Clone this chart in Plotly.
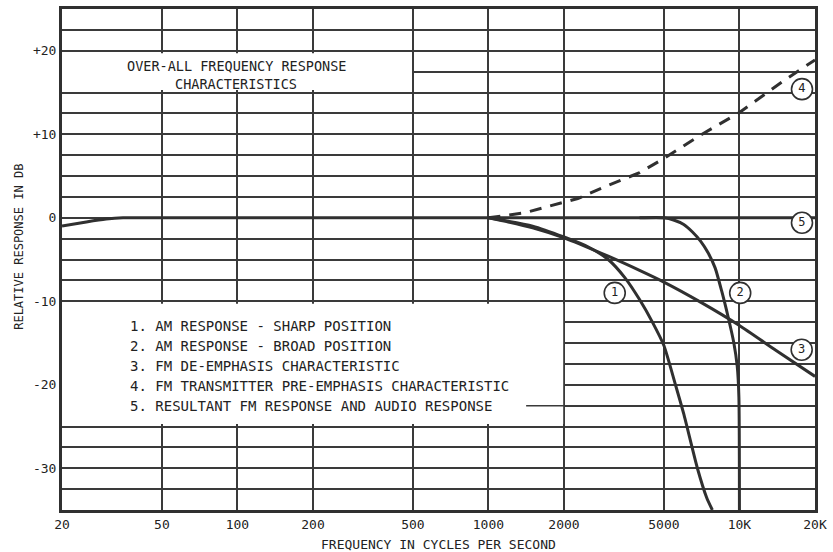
import plotly.graph_objects as go

# ---------------- data ----------------
x_ticks = [20, 50, 100, 200, 500, 1000, 2000, 5000, 10000, 20000]
x_ticklabels = ["20", "50", "100", "200", "500", "1000", "2000", "5000", "10K", "20K"]

y_grid = [-32.5, -30, -27.5, -25, -22.5, -20, -17.5, -15, -12.5, -10, -7.5, -5,
          -2.5, 0, 2.5, 5, 7.5, 10, 12.5, 15, 17.5, 20, 22.5]
y_labels = {20: "+20", 10: "+10", 0: "0", -10: "-10", -20: "-20", -30: "-30"}

# Curve 1: AM response - sharp position
c1_f = [1000, 1500, 2000, 2500, 3000, 3500, 4000, 4500, 5000, 5560, 6000, 6800, 7400, 7800]
c1_db = [0, -1.0, -2.3, -3.5, -5.0, -7.2, -9.8, -12.5, -15.3, -20.0, -23.5, -30.0, -33.5, -35.0]

# Curve 2: AM response - broad position
c2_f = [4000, 5000, 5500, 6000, 6500, 7000, 7500, 8000, 8500, 9000, 9500, 9800, 9950, 10000]
c2_db = [0, 0, -0.3, -0.8, -1.7, -2.8, -4.2, -6.0, -8.8, -11.8, -15.0, -17.8, -21.5, -35.0]

# Curve 3: FM de-emphasis characteristic
c3_f = [1000, 1200, 1500, 2000, 3000, 4000, 5000, 7000, 10000, 14000, 20000]
c3_db = [0, -0.5, -1.2, -2.4, -4.6, -6.3, -7.7, -10.1, -12.9, -15.9, -19.0]

# Curve 4: FM transmitter pre-emphasis characteristic (dashed)
c4_f = [1000, 1400, 1750, 2270, 2900, 4000, 5000, 7000, 10000, 15000, 20000]
c4_db = [0, 0.6, 1.4, 2.3, 3.7, 5.4, 7.1, 9.9, 12.6, 16.4, 18.9]

# Curve 5: resultant FM response and audio response
c5_f = [20, 25, 30, 35, 50, 100, 1000, 5000, 20000]
c5_db = [-1.0, -0.5, -0.15, 0, 0, 0, 0, 0, 0]

# circled curve numbers
lab_f = [3185, 10070, 17700, 17750, 17750]
lab_db = [-9.0, -9.0, -15.8, 15.4, -0.6]
lab_text = ["1", "2", "3", "4", "5"]

# partial grid line visible beside the legend box
seg_f = [1413, 2000]
seg_db = [-22.5, -22.5]

title_lines = ["OVER-ALL FREQUENCY RESPONSE", "CHARACTERISTICS"]
legend_lines = [
    "1. AM RESPONSE - SHARP POSITION",
    "2. AM RESPONSE - BROAD POSITION",
    "3. FM DE-EMPHASIS CHARACTERISTIC",
    "4. FM TRANSMITTER PRE-EMPHASIS CHARACTERISTIC",
    "5. RESULTANT FM RESPONSE AND AUDIO RESPONSE",
]

# ---------------- styling ----------------
INK = "#303030"
GRID = "#3a3a3a"
FONT = "DejaVu Sans Mono"

fig = go.Figure()

# white panels (title + legend) masking the grid, drawn as filled traces
fig.add_trace(go.Scatter(x=[20, 496, 496, 20, 20], y=[15.3, 15.3, 19.7, 19.7, 15.3],
                         mode="lines", fill="toself", fillcolor="white",
                         line=dict(width=0, color="white"), hoverinfo="skip"))
fig.add_trace(go.Scatter(x=[20, 1985, 1985, 20, 20], y=[-24.7, -24.7, -10.3, -10.3, -24.7],
                         mode="lines", fill="toself", fillcolor="white",
                         line=dict(width=0, color="white"), hoverinfo="skip"))

fig.add_trace(go.Scatter(x=seg_f, y=seg_db, mode="lines",
                         line=dict(color=GRID, width=1.5), hoverinfo="skip"))

for f, d in [(c5_f, c5_db), (c3_f, c3_db), (c1_f, c1_db), (c2_f, c2_db)]:
    fig.add_trace(go.Scatter(x=f, y=d, mode="lines",
                             line=dict(color=INK, width=3, shape="spline", smoothing=0.6)))

fig.add_trace(go.Scatter(x=c4_f, y=c4_db, mode="lines",
                         line=dict(color=INK, width=3, dash="12px,9px")))

fig.add_trace(go.Scatter(x=lab_f, y=lab_db, mode="markers+text", text=lab_text,
                         textposition="middle center",
                         textfont=dict(family=FONT, size=12, color="#222"),
                         marker=dict(symbol="circle", size=21, color="white",
                                     line=dict(color=INK, width=1.6))))

annotations = []
for i, t in enumerate(title_lines):
    annotations.append(dict(text=t, xref="paper", yref="paper", x=0.2313,
                            y=(510 - (63 + 18 * i)) / 504, xanchor="center",
                            yanchor="middle", showarrow=False,
                            font=dict(family=FONT, size=13.5, color="#222")))
for i, t in enumerate(legend_lines):
    annotations.append(dict(text=t, xref="paper", yref="paper", x=(128 - 62) / 757,
                            y=(510 - (325 + 20.2 * i)) / 504, xanchor="left",
                            yanchor="middle", showarrow=False,
                            font=dict(family=FONT, size=14, color="#222")))
annotations.append(dict(text="FREQUENCY IN CYCLES PER SECOND", xref="paper", yref="paper",
                        x=0.5, y=(510 - 545) / 504, xanchor="center", yanchor="middle",
                        showarrow=False, font=dict(family=FONT, size=13, color="#222")))
annotations.append(dict(text="RELATIVE RESPONSE IN DB", xref="paper", yref="paper",
                        x=(18 - 62) / 757, y=(510 - 245) / 504, xanchor="center",
                        yanchor="middle", textangle=-90, showarrow=False,
                        font=dict(family=FONT, size=12, color="#222")))

fig.update_layout(
    width=833, height=552,
    margin=dict(l=62, r=14, t=6, b=42),
    paper_bgcolor="white", plot_bgcolor="white",
    showlegend=False,
    annotations=annotations,
    font=dict(family=FONT, color="#222"),
)

fig.update_xaxes(type="log", range=[1.30103, 4.30103],
                 tickvals=x_ticks, ticktext=x_ticklabels,
                 showgrid=True, gridcolor=GRID, gridwidth=1.5,
                 showline=True, linecolor=INK, linewidth=3, mirror=True,
                 ticks="", tickfont=dict(family=FONT, size=13, color="#222"),
                 zeroline=False)
fig.update_yaxes(range=[-35, 25],
                 tickvals=y_grid, ticktext=[y_labels.get(v, "") for v in y_grid],
                 showgrid=True, gridcolor=GRID, gridwidth=1.5,
                 showline=True, linecolor=INK, linewidth=3, mirror=True,
                 ticks="", tickfont=dict(family=FONT, size=13, color="#222"),
                 zeroline=False)

fig.write_html("out.html")
